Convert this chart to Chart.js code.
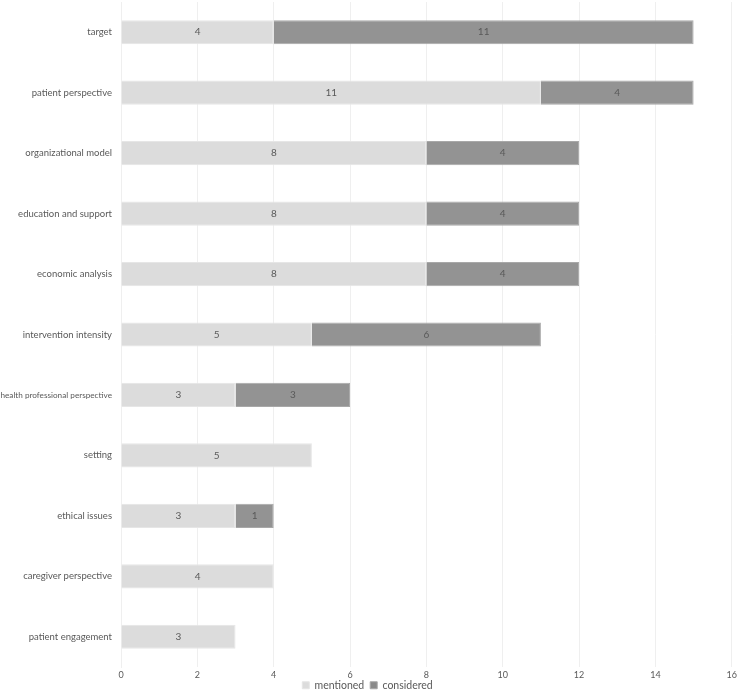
<!DOCTYPE html>
<html>
<head>
<meta charset="utf-8">
<script src="https://cdn.jsdelivr.net/npm/chart.js@4"></script>
<style>
  html, body { margin: 0; padding: 0; background: #fff; }
  #wrap { width: 740px; height: 694px; }
</style>
</head>
<body>
<div id="wrap"><canvas id="chart"></canvas></div>
<script>
const categories = [
    'target', 'patient perspective', 'organizational model', 'education and support',
    'economic analysis', 'intervention intensity', 'health professional perspective',
    'setting', 'ethical issues', 'caregiver perspective', 'patient engagement'
];
const mentioned = [4, 11, 8, 8, 8, 5, 3, 5, 3, 4, 3];
const considered = [11, 4, 4, 4, 4, 6, 3, 0, 1, 0, 0];

const FONT = 'Lato, "Open Sans", sans-serif';

// values written in the middle of each segment
const barLabels = {
    id: 'barLabels',
    afterDatasetsDraw(chart) {
        const ctx = chart.ctx;
        ctx.save();
        ctx.font = '10px ' + FONT;
        ctx.fillStyle = '#595959';
        ctx.textAlign = 'center';
        ctx.textBaseline = 'middle';
        chart.data.datasets.forEach((ds, i) => {
            chart.getDatasetMeta(i).data.forEach((bar, j) => {
                const v = ds.data[j];
                if (!v) return;
                ctx.fillText(v, (bar.x + bar.base) / 2, bar.y);
            });
        });
        ctx.restore();
    }
};

// squeeze the legend so it sits right under the tick labels
const legendTight = {
    id: 'legendTight',
    beforeLayout(chart) {
        const lg = chart.legend;
        if (lg && !lg._tight) {
            const fit = lg.fit;
            lg.fit = function () {
                fit.call(this);
                this.height = 13;
            };
            lg._tight = true;
        }
    },
    afterLayout(chart) {
        chart.legend.top = chart.height - 20;
        chart.legend.bottom = chart.height;
    }
};

const ctx = document.getElementById('chart').getContext('2d');

const darkFill = (context) => {
    const bar = context.element;
    if (!bar || !bar.height) return '#939393';
    const g = context.chart.ctx.createLinearGradient(0, bar.y - bar.height / 2, 0, bar.y + bar.height / 2);
    g.addColorStop(0, '#a2a2a2');
    g.addColorStop(1, '#8a8a8a');
    return g;
};

new Chart(ctx, {
    type: 'bar',
    data: {
        labels: categories,
        datasets: [
            {
                label: 'mentioned',
                data: mentioned,
                backgroundColor: '#dcdcdc',
                borderColor: '#e6e6e6',
                borderWidth: 1,
                categoryPercentage: 1,
                barPercentage: 0.4,
            }, {
                label: 'considered',
                data: considered,
                backgroundColor: darkFill,
                borderColor: '#a8a8a8',
                borderWidth: 1,
                categoryPercentage: 1,
                barPercentage: 0.4,
            },
        ]
    },
    options: {
        indexAxis: 'y',
        responsive: true,
        maintainAspectRatio: false,
        animation: false,
        layout: { padding: { top: 2, right: 5, bottom: 0, left: 0 } },
        scales: {
            x: {
                stacked: true,
                min: 0,
                max: 16,
                afterFit: (scale) => { scale.height = 14; },
                ticks: {
                    stepSize: 2,
                    color: '#595959',
                    font: { family: FONT, size: 9 },
                    padding: 3,
                },
                grid: { color: '#efefef', drawTicks: false },
                border: { display: false },
            },
            y: {
                stacked: true,
                afterFit: (scale) => {
                    scale.width = 121;
                    scale.paddingTop = 0;
                    scale.paddingBottom = 0;
                },
                ticks: {
                    color: '#595959',
                    // the longest label has to fit in the 112px gutter
                    font: (c) => ({
                        family: FONT,
                        size: String(categories[c.index] || '').length > 25 ? 8.2 : 9.5,
                    }),
                    padding: 9,
                },
                grid: { display: false, drawTicks: false },
                border: { color: '#efefef' },
            },
        },
        plugins: {
            legend: {
                position: 'bottom',
                labels: {
                    boxWidth: 7,
                    boxHeight: 7,
                    padding: 6,
                    color: '#595959',
                    font: { family: FONT, size: 10.5 },
                },
            },
            tooltip: { enabled: false },
        },
    },
    plugins: [barLabels, legendTight],
});
</script>
</body>
</html>
